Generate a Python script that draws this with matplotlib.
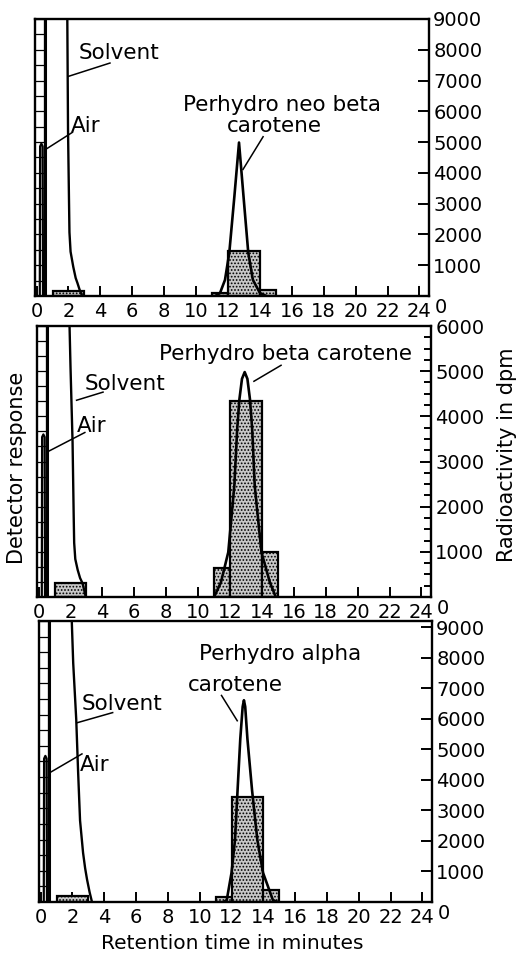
import numpy as np
import matplotlib
matplotlib.use('Agg')
import matplotlib.pyplot as plt

plt.rcParams['font.family'] = ['DejaVu Sans']
plt.rcParams['hatch.linewidth'] = 0.8

W, H = 518, 955
FS = 14      # tick labels
LFS = 15.5   # peak labels

time_ticks = list(range(0, 25, 2))

# collected fractions: start (min), width (min)
frac_left = [1, 11, 12, 14]
frac_width = [2, 1, 2, 1]

# radioactivity of each fraction, dpm
neo_dpm = [150, 100, 1450, 200]
beta_dpm = [300, 650, 4350, 1000]
alpha_dpm = [200, 150, 3450, 400]

# detector trace, % of recorder full scale
neo_air_t = [0.2, 0.22, 0.3, 0.38, 0.4]
neo_air_y = [0, 54, 55, 54, 0]
beta_air_t = [0.2, 0.22, 0.3, 0.38, 0.4]
beta_air_y = [0, 59, 60, 59, 0]
alpha_air_t = [0.2, 0.22, 0.3, 0.38, 0.4]
alpha_air_y = [0, 51, 52, 51, 0]

neo_solv_t = [1.92, 1.97, 2.03, 2.06, 2.13, 2.3, 2.45, 2.56, 2.7, 2.86]
neo_solv_y = [105, 60, 35, 23, 16, 10.5, 6.5, 4.7, 2.2, 0]
beta_solv_t = [1.92, 2.0, 2.13, 2.2, 2.23, 2.3, 2.45, 2.6, 2.76, 2.96]
beta_solv_y = [105, 85, 57, 30, 20, 14, 10, 7, 5, 0]
alpha_solv_t = [1.93, 2.05, 2.24, 2.36, 2.48, 2.67, 2.8, 2.92, 3.08, 3.23]
alpha_solv_y = [105, 85, 65, 46, 29, 17.5, 12, 8, 3.5, 0]

neo_peak_t = [11.2, 11.5, 11.81, 12.08, 12.4, 12.69, 13.0, 13.27, 13.56, 14.0, 14.4]
neo_peak_y = [0, 1.1, 5.8, 15.6, 36, 55.4, 34, 15.6, 5.8, 1.1, 0]
beta_peak_t = [11.0, 11.43, 11.89, 12.27, 12.45, 12.59, 12.75, 12.92, 13.09,
               13.25, 13.39, 13.55, 13.97, 14.5, 14.87]
beta_peak_y = [0, 5.4, 16.5, 41, 62, 73, 80.5, 83, 80.5, 73, 62, 41, 16.5, 5.4, 0]
alpha_peak_t = [11.5, 11.7, 12.0, 12.22, 12.38, 12.55, 12.7, 12.78, 12.86,
                13.0, 13.29, 13.62, 13.98, 14.6, 14.9]
alpha_peak_y = [0, 0.7, 10.4, 22.2, 39.8, 58, 69.5, 71.8, 69.5, 58, 39.8, 22.2, 10.4, 0.7, 0]


def px_rect(left, right, top, bottom):
    return [left / W, 1 - bottom / H, (right - left) / W, (bottom - top) / H]


def panel(fig, rect, dpm, dpm_max, dpm_top, minor, air, solvent, peak, labels, leaders):
    ax = fig.add_axes(rect)
    ax.bar(frac_left, dpm, width=frac_width, align='edge', facecolor='#c8c8c8',
           edgecolor='black', hatch='.....', linewidth=1.6, zorder=2)
    ax.set_xlim(-0.1, 24.6)
    ax.set_ylim(0, dpm_top)

    ax2 = ax.twinx()
    ax2.set_ylim(0, 100)
    ax2.axis('off')

    ax.yaxis.tick_right()
    ax.set_yticks(range(1000, dpm_max + 1, 1000))
    if minor:
        ax.set_yticks(np.arange(250, dpm_max, 250), minor=True)
    ax.tick_params(axis='y', which='both', direction='in', left=False, right=True,
                   labelleft=False, labelright=True, labelsize=FS, pad=3,
                   length=8, width=1.4)
    ax.tick_params(axis='y', which='minor', length=5)
    ax.set_xticks(time_ticks)
    ax.tick_params(axis='x', direction='in', length=7, width=1.4, labelsize=FS, pad=4)
    for s in ax.spines.values():
        s.set_linewidth(1.7)
    ax.annotate('0', xy=(1, 0), xycoords='axes fraction', xytext=(4, -1.5),
                textcoords='offset points', ha='left', va='top', fontsize=FS)

    # recorder strip at the start of the trace
    rungs = np.linspace(0, 100, 19)
    ax2.hlines(rungs, -0.1, 0.45, color='black', lw=0.9)
    ax2.vlines(0.45, 0, 100, color='black', lw=0.9)
    ax2.vlines(0.52, 0, 100, color='black', lw=2.2)

    ax2.plot(*air, color='black', lw=1.6)
    ax2.plot(*solvent, color='black', lw=1.7)
    ax2.plot(*peak, color='black', lw=1.9)

    for s, x, y in labels:
        ax2.text(x, y, s, ha='center', va='center', fontsize=LFS)
    for x0, y0, x1, y1 in leaders:
        ax2.plot([x0, x1], [y0, y1], color='black', lw=1.1)
    return ax


fig = plt.figure(figsize=(W / 100, H / 100), dpi=100)

panel(fig, px_rect(35, 429, 19, 296), neo_dpm, 9000, 9000, False,
      (neo_air_t, neo_air_y), (neo_solv_t, neo_solv_y), (neo_peak_t, neo_peak_y),
      [('Solvent', 5.19, 87.7), ('Air', 3.1, 61.2),
       ('Perhydro neo beta', 15.4, 68.8), ('carotene', 14.9, 61.4)],
      [(2.0, 79.3, 4.6, 84.1), (0.56, 52.9, 2.25, 59.1), (12.94, 45.7, 14.2, 57.5)])

panel(fig, px_rect(37, 431, 326, 597), beta_dpm, 6000, 6000, True,
      (beta_air_t, beta_air_y), (beta_solv_t, beta_solv_y), (beta_peak_t, beta_peak_y),
      [('Solvent', 5.44, 78.5), ('Air', 3.34, 63.0),
       ('Perhydro beta carotene', 15.45, 89.6)],
      [(2.38, 72.6, 4.04, 75.6), (0.6, 53.7, 2.9, 60.7), (13.5, 79.6, 15.2, 85.5)])

panel(fig, px_rect(39, 432, 621, 902), alpha_dpm, 9000, 9200, False,
      (alpha_air_t, alpha_air_y), (alpha_solv_t, alpha_solv_y), (alpha_peak_t, alpha_peak_y),
      [('Solvent', 5.09, 70.6), ('Air', 3.42, 48.7),
       ('Perhydro alpha', 15.03, 88.2), ('carotene', 12.27, 77.1)],
      [(2.3, 63.8, 4.53, 67.4), (0.57, 46.0, 2.6, 52.7), (12.36, 64.5, 11.37, 73.5)])

fig.text(17 / W, 1 - 468 / H, 'Detector response', rotation=90,
         ha='center', va='center', fontsize=15)
fig.text(507 / W, 1 - 455 / H, 'Radioactivity in dpm', rotation=90,
         ha='center', va='center', fontsize=15)
fig.text(232 / W, 1 - 943 / H, 'Retention time in minutes',
         ha='center', va='center', fontsize=14.5)

fig.savefig('out.png', dpi=100)
